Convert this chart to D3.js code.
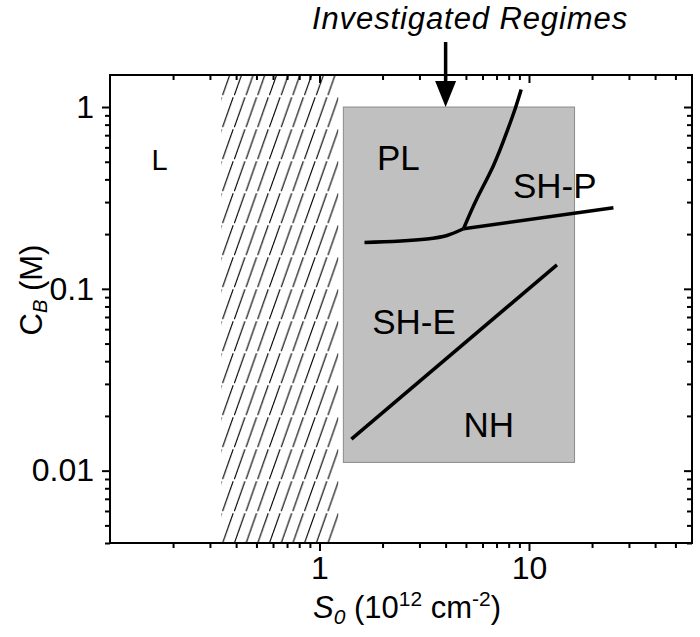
<!DOCTYPE html>
<html>
<head>
<meta charset="utf-8">
<script src="https://cdn.jsdelivr.net/npm/d3@7"></script>
<style>
  body { margin: 0; background: #fff; }
  text { font-family: "Liberation Sans", Arial, sans-serif; fill: #000; }
</style>
</head>
<body>
<div id="chart"></div>
<script>
// axis ticks
const xMajor = [1, 10];
const xMinor = [0.2, 0.3, 0.4, 0.5, 0.6, 0.7, 0.8, 0.9, 2, 3, 4, 5, 6, 7, 8, 9, 20, 30, 40, 50];
const yMajor = [0.01, 0.1, 1];
const yMinor = [0.004, 0.005, 0.006, 0.007, 0.008, 0.009,
  0.02, 0.03, 0.04, 0.05, 0.06, 0.07, 0.08, 0.09,
  0.2, 0.3, 0.4, 0.5, 0.6, 0.7, 0.8, 0.9];

// regions (S0, CB)
const hatchS0 = [0.34, 1.23];
const boxS0 = [1.3, 16.5];
const boxCB = [0.0111, 1.0];

// boundary lines
const lineSHE = [[1.42, 0.0149], [13.6, 0.1355]];
const linePL = [[1.64, 0.18], [3.26, 0.188], [4.06, 0.1965], [4.87, 0.214], [25.3, 0.279]];
const lineSHP = [[4.87, 0.214], [5.64, 0.313], [6.77, 0.477], [7.84, 0.729], [8.59, 0.979], [9.18, 1.25]];

// region names
const regionNames = ["L", "PL", "SH-P", "SH-E", "NH"];
const regionAt = [[0.158, 0.452], [1.88, 0.448], [8.38, 0.316], [1.785, 0.0565], [4.87, 0.01527]];
const arrowS0 = 4;

const W = 700, H = 637;
const margin = {top: 75, right: 8, bottom: 94, left: 110};

const svg = d3.select("#chart").append("svg")
  .attr("width", W).attr("height", H);

const x = d3.scaleLog().domain([0.1, 60]).range([margin.left, W - margin.right]);
const y = d3.scaleLog().domain([0.004, 1.5]).range([H - margin.bottom, margin.top]);

const defs = svg.append("defs");
defs.append("clipPath").attr("id", "clip")
  .append("rect")
  .attr("x", x.range()[0]).attr("y", y.range()[1])
  .attr("width", x.range()[1] - x.range()[0])
  .attr("height", y.range()[0] - y.range()[1]);

const pat = defs.append("pattern").attr("id", "hatch")
  .attr("patternUnits", "userSpaceOnUse")
  .attr("width", 11.7).attr("height", 32);
pat.append("path").attr("d", "M0.3,31.2 L10.9,1.2")
  .attr("stroke", "#000").attr("stroke-width", 1.1).attr("fill", "none");

const plot = svg.append("g").attr("clip-path", "url(#clip)");

// hatched band
plot.append("rect")
  .attr("x", x(hatchS0[0])).attr("y", y.range()[1])
  .attr("width", x(hatchS0[1]) - x(hatchS0[0]))
  .attr("height", y.range()[0] - y.range()[1])
  .attr("fill", "url(#hatch)");

// investigated box
plot.append("rect")
  .attr("x", x(boxS0[0])).attr("y", y(boxCB[1]))
  .attr("width", x(boxS0[1]) - x(boxS0[0]))
  .attr("height", y(boxCB[0]) - y(boxCB[1]))
  .attr("fill", "#c0c0c0").attr("stroke", "#8a8a8a").attr("stroke-width", 1);

const lineGen = c => d3.line().x(d => x(d[0])).y(d => y(d[1])).curve(c);
const drawLine = (pts, c) => plot.append("path").datum(pts)
  .attr("d", lineGen(c))
  .attr("fill", "none").attr("stroke", "#000")
  .attr("stroke-width", 3.5).attr("stroke-linejoin", "round");

drawLine(lineSHE, d3.curveLinear);
drawLine(linePL.slice(0, 4), d3.curveMonotoneX);
drawLine(linePL.slice(3), d3.curveLinear);
drawLine(lineSHP, d3.curveNatural);

// region labels
svg.append("g").selectAll("text")
  .data(regionNames)
  .join("text")
  .attr("x", (d, i) => x(regionAt[i][0]))
  .attr("y", (d, i) => y(regionAt[i][1]))
  .attr("font-size", (d, i) => i === 0 ? 29 : 35)
  .text(d => d);

// axes
const yB = y.range()[0], yT = y.range()[1];
const styleAxis = g => {
  g.select(".domain").remove();
  g.selectAll(".tick line").attr("stroke", "#000").attr("stroke-width", 2);
  g.selectAll("text").attr("font-size", 32).attr("fill", "#000")
    .style("font-family", "'Liberation Sans', Arial, sans-serif");
};

svg.append("g").attr("transform", `translate(0,${yB})`)
  .call(d3.axisBottom(x).tickValues(xMajor).tickFormat(d3.format("d")).tickSize(8).tickPadding(5))
  .call(styleAxis);
svg.append("g").attr("transform", `translate(0,${yB})`)
  .call(d3.axisBottom(x).tickValues(xMinor).tickFormat("").tickSize(5))
  .call(styleAxis);
svg.append("g").attr("transform", `translate(0,${yT})`)
  .call(d3.axisBottom(x).tickValues(xMajor).tickFormat("").tickSize(8))
  .call(styleAxis);
svg.append("g").attr("transform", `translate(0,${yT})`)
  .call(d3.axisBottom(x).tickValues(xMinor).tickFormat("").tickSize(5))
  .call(styleAxis);

const xl = x.range()[0], xr = x.range()[1];
svg.append("g").attr("transform", `translate(${xl},0)`)
  .call(d3.axisLeft(y).tickValues(yMajor).tickFormat(d => String(d)).tickSize(8).tickPadding(8))
  .call(styleAxis);
svg.append("g").attr("transform", `translate(${xl},0)`)
  .call(d3.axisLeft(y).tickValues(yMinor).tickFormat("").tickSize(5))
  .call(styleAxis);
svg.append("g").attr("transform", `translate(${xr},0)`)
  .call(d3.axisLeft(y).tickValues(yMajor).tickFormat("").tickSize(8))
  .call(styleAxis);
svg.append("g").attr("transform", `translate(${xr},0)`)
  .call(d3.axisLeft(y).tickValues(yMinor).tickFormat("").tickSize(5))
  .call(styleAxis);

// frame
svg.append("rect")
  .attr("x", xl).attr("y", yT)
  .attr("width", xr - xl).attr("height", yB - yT)
  .attr("fill", "none").attr("stroke", "#000").attr("stroke-width", 2);

// axis titles
const xt = svg.append("text")
  .attr("x", 313).attr("y", 618)
  .attr("font-size", 31);
xt.append("tspan").attr("font-style", "italic").text("S");
xt.append("tspan").attr("font-style", "italic").attr("font-size", 21).attr("dy", 6).text("0");
xt.append("tspan").attr("dy", -6).text(" (10");
xt.append("tspan").attr("font-size", 21).attr("dy", -12).text("12");
xt.append("tspan").attr("dy", 12).text(" cm");
xt.append("tspan").attr("font-size", 21).attr("dy", -12).text("-2");
xt.append("tspan").attr("dy", 12).text(")");

const yt = svg.append("text")
  .attr("transform", "translate(42,290) rotate(-90)")
  .attr("text-anchor", "middle")
  .attr("font-size", 31);
yt.append("tspan").text("C");
yt.append("tspan").attr("font-style", "italic").attr("font-size", 20).attr("dy", 5).text("B");
yt.append("tspan").attr("dy", -5).text(" (M)");

// title + arrow
svg.append("text")
  .attr("x", 470).attr("y", 29)
  .attr("text-anchor", "middle")
  .attr("font-size", 31).attr("font-style", "italic")
  .attr("letter-spacing", 0.9)
  .text("Investigated Regimes");

const ax = x(arrowS0);
svg.append("line")
  .attr("x1", ax).attr("x2", ax).attr("y1", 42).attr("y2", 84)
  .attr("stroke", "#000").attr("stroke-width", 3.5);
svg.append("path")
  .attr("d", `M${ax - 10.5},81 L${ax + 10.5},81 L${ax},107 Z`)
  .attr("fill", "#000");
</script>
</body>
</html>
